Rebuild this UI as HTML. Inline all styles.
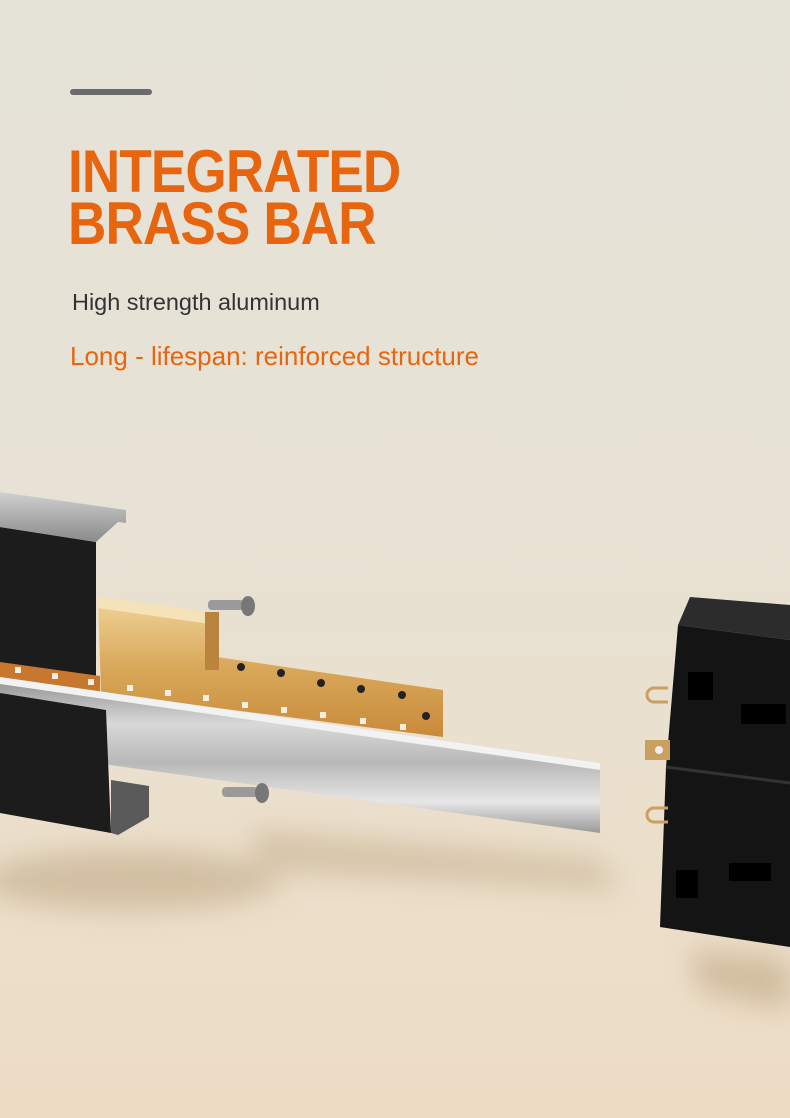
<!DOCTYPE html>
<html><head><meta charset="utf-8"><style>
html,body{margin:0;padding:0}
body{width:790px;height:1118px;overflow:hidden;position:relative;background:linear-gradient(180deg,#e5e2d8 0%,#e7e2d5 45%,#ebdfcb 75%,#eddcc4 100%);font-family:"Liberation Sans",sans-serif}
.bar{position:absolute;left:70px;top:89px;width:82px;height:6px;background:#6b6b6b;border-radius:3px}
.t{position:absolute;left:68px;color:#e8650f;font-weight:bold;font-size:60px;line-height:60px;transform:scaleX(0.885);transform-origin:left top;letter-spacing:-1px}
.s1{position:absolute;left:72px;top:289px;font-size:23px;color:#333;transform:scaleX(1.02);transform-origin:left top}
.s2{position:absolute;left:70px;top:341px;font-size:26px;color:#e8650f}
svg{position:absolute;left:0;top:0}
</style></head><body>
<div class="bar"></div>
<div class="t" style="top:142px">INTEGRATED</div>
<div class="t" style="top:194px">BRASS BAR</div>
<div class="s1">High strength aluminum</div>
<div class="s2">Long - lifespan: reinforced structure</div>
<svg width="790" height="1118" viewBox="0 0 790 1118">
<defs>
<filter id="b" x="-50%" y="-50%" width="200%" height="200%"><feGaussianBlur stdDeviation="14"/></filter>
<linearGradient id="br" x1="0" y1="0" x2="0" y2="1"><stop offset="0" stop-color="#f0d49a"/><stop offset=".5" stop-color="#d9a85a"/><stop offset="1" stop-color="#c98a3a"/></linearGradient>
<linearGradient id="al" x1="0" y1="0" x2="0" y2="1"><stop offset="0" stop-color="#8f8f8f"/><stop offset=".3" stop-color="#d8d8d8"/><stop offset=".55" stop-color="#b8b8b8"/><stop offset=".8" stop-color="#e6e6e6"/><stop offset="1" stop-color="#9a9a9a"/></linearGradient>
<linearGradient id="sv" x1="0" y1="0" x2="0" y2="1"><stop offset="0" stop-color="#d0d0d0"/><stop offset="1" stop-color="#8a8a8a"/></linearGradient>
</defs>
<ellipse cx="130" cy="880" rx="150" ry="30" fill="#b9a07c" opacity=".5" filter="url(#b)"/>
<polygon points="250,830 600,860 620,890 260,870" fill="#b9a07c" opacity=".45" filter="url(#b)"/>
<polygon points="690,950 790,960 790,1010 700,990" fill="#b9a07c" opacity=".55" filter="url(#b)"/>
<polygon points="0,527 96,542 96,676 0,666" fill="#1c1c1c"/>
<polygon points="0,492 126,510 126,523 118,522 96,542 0,527" fill="url(#sv)"/>
<polygon points="0,662 100,676 100,694 0,680" fill="#c8782e"/>
<polygon points="98,597 217,613 217,657 443,690 443,737 101,693" fill="url(#br)"/>
<polygon points="98,597 217,613 217,625 98,608" fill="#f5e2b8"/>
<rect x="205" y="612" width="14" height="58" fill="#b8843e"/>
<g fill="#222">
<circle cx="241" cy="667" r="4"/><circle cx="281" cy="673" r="4"/><circle cx="321" cy="683" r="4"/><circle cx="361" cy="689" r="4"/><circle cx="402" cy="695" r="4"/><circle cx="426" cy="716" r="4"/>
</g>
<g fill="#f4eee0">
<rect x="15" y="667" width="6" height="6"/><rect x="52" y="673" width="6" height="6"/><rect x="88" y="679" width="6" height="6"/><rect x="127" y="685" width="6" height="6"/><rect x="165" y="690" width="6" height="6"/><rect x="203" y="695" width="6" height="6"/><rect x="242" y="702" width="6" height="6"/><rect x="281" y="707" width="6" height="6"/><rect x="320" y="712" width="6" height="6"/><rect x="360" y="718" width="6" height="6"/><rect x="400" y="724" width="6" height="6"/>
</g>
<polygon points="0,677 600,763 600,833 110,765 0,705" fill="url(#al)"/>
<polygon points="0,677 600,763 600,770 0,684" fill="#f2f2f2"/>
<polygon points="0,693 106,710 111,833 0,813" fill="#1c1c1c"/>
<polygon points="111,780 149,786 149,817 118,835 111,833" fill="#5a5a5a"/>
<g><rect x="208" y="600" width="36" height="10" rx="4" fill="#9a9a9a"/><ellipse cx="248" cy="606" rx="7" ry="10" fill="#777"/></g>
<g><rect x="222" y="787" width="36" height="10" rx="4" fill="#9a9a9a"/><ellipse cx="262" cy="793" rx="7" ry="10" fill="#777"/></g>
<polygon points="690,597 790,605 790,640 678,625" fill="#2c2c2c"/>
<polygon points="678,625 790,640 790,947 660,927 666,767" fill="#141414"/>
<line x1="666" y1="767" x2="790" y2="783" stroke="#333" stroke-width="3"/>
<rect x="688" y="672" width="25" height="28" fill="#000"/>
<rect x="741" y="704" width="45" height="20" fill="#000"/>
<rect x="676" y="870" width="22" height="28" fill="#000"/>
<rect x="729" y="863" width="42" height="18" fill="#000"/>
<g fill="none" stroke="#c9a060" stroke-width="3">
<path d="M668,702 h-14 a7,7 0 0 1 0,-14 h14"/>
<path d="M668,822 h-14 a7,7 0 0 1 0,-14 h14"/>
</g>
<rect x="645" y="740" width="25" height="20" fill="#c9a060"/><circle cx="659" cy="750" r="4" fill="#eee"/>
</svg>
</body></html>
